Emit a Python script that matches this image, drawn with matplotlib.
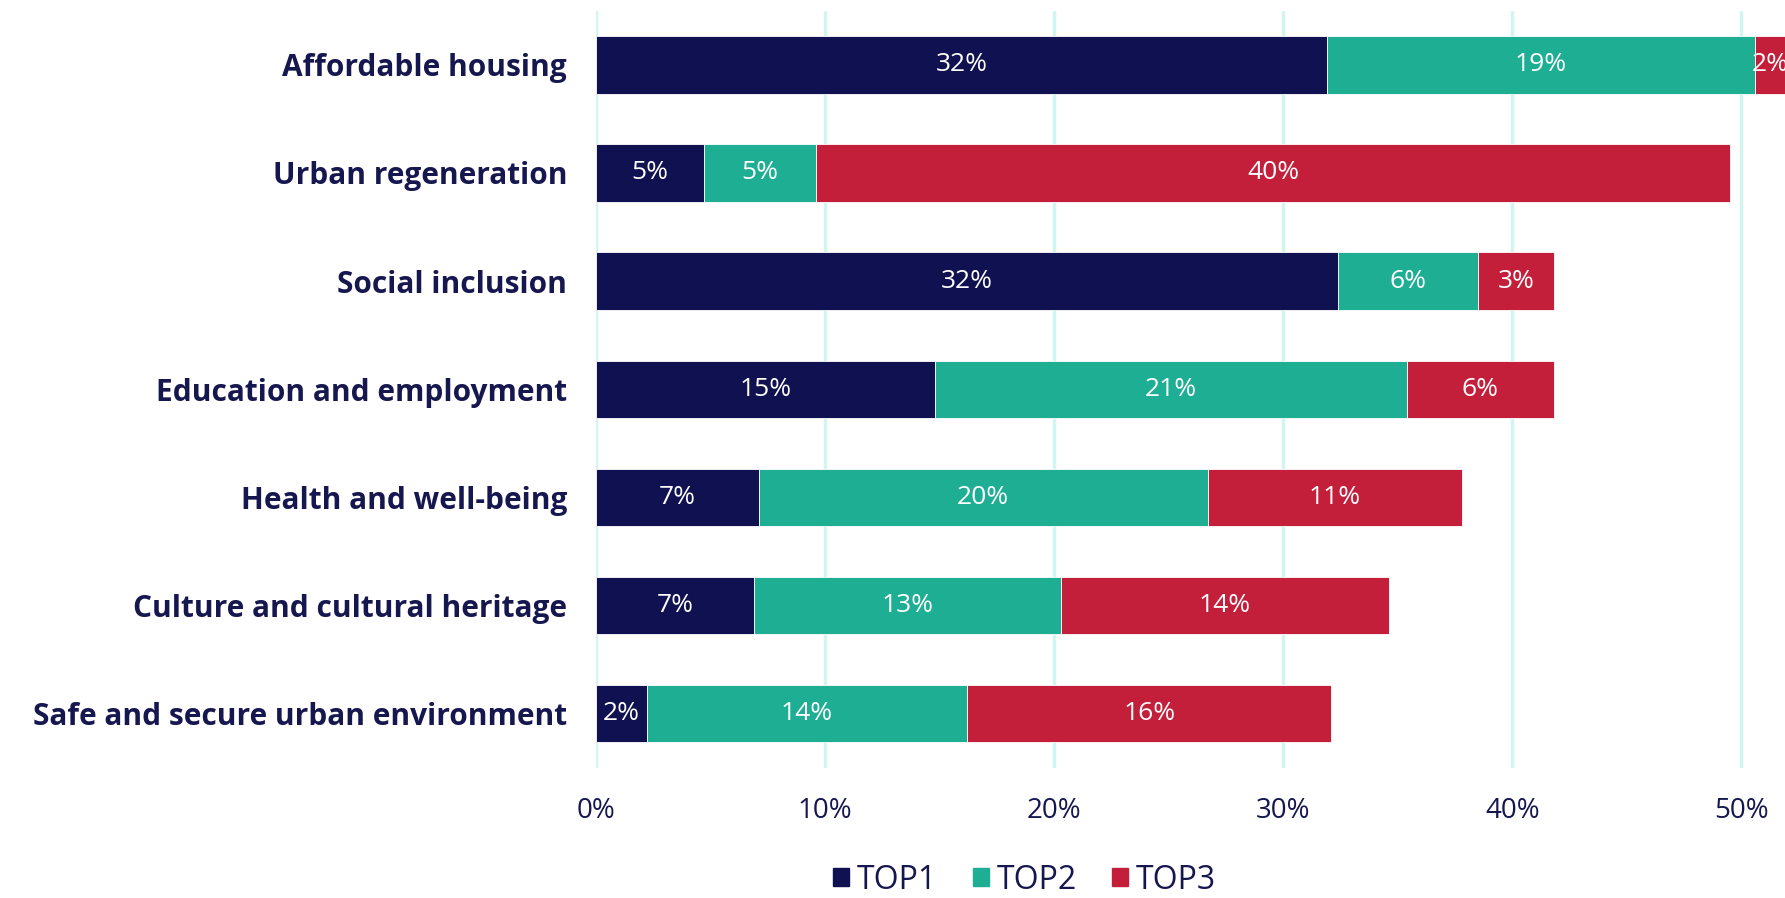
import numpy as np
from matplotlib import pyplot as plt
from matplotlib.patches import Patch

categories = ["Affordable housing", "Urban regeneration", "Social inclusion",
              "Education and employment", "Health and well-being",
              "Culture and cultural heritage", "Safe and secure urban environment"]
top1 = [31.9, 4.7, 32.4, 14.8, 7.1, 6.9, 2.2]
top2 = [18.7, 4.9, 6.1, 20.6, 19.6, 13.4, 14.0]
top3 = [2.0, 39.9, 3.3, 6.4, 11.1, 14.3, 15.9]
series_names = ["TOP1", "TOP2", "TOP3"]
colors = ["#0f1150", "#1eae94", "#c41f3a"]
ticks = [0, 10, 20, 30, 40, 50]

text_color = "#16174f"
plt.rcParams['font.family'] = ['Open Sans', 'DejaVu Sans']

fig = plt.figure(figsize=(17.85, 8.98), dpi=100)
ax = fig.add_axes([0.334, 0.145, 0.666, 0.843])

y = np.arange(len(categories))
left = np.zeros(len(categories))
for vals, name, col in zip([top1, top2, top3], series_names, colors):
    bars = ax.barh(y, vals, left=left, height=0.53, color=col, label=name,
                   edgecolor="white", linewidth=0.6, zorder=3)
    ax.bar_label(bars, labels=[f"{round(v)}%" for v in vals], label_type="center",
                 color="white", fontsize=19, zorder=4)
    left += np.array(vals)

ax.set_xlim(0, 51.9)
ax.set_ylim(len(categories) - 0.5, -0.5)
ax.set_yticks(y)
ax.set_yticklabels(categories, fontsize=21.5, fontweight="bold", color=text_color)
ax.set_xticks(ticks)
ax.set_xticklabels([f"{t}%" for t in ticks], fontsize=20, color=text_color)
ax.tick_params(axis="both", length=0)
ax.tick_params(axis="y", pad=21)
ax.tick_params(axis="x", pad=21)
for s in ax.spines.values():
    s.set_visible(False)
for t in ticks:
    ax.axvline(t, color="#d2f5ef", linewidth=2.5, zorder=1)

handles = [Patch(color=c) for c in colors]
fig.legend(handles, series_names, loc="center", bbox_to_anchor=(0.574, 0.02),
           ncol=3, frameon=False, fontsize=23, handlelength=0.5, handleheight=0.5,
           handletextpad=0.25, columnspacing=1.1, labelcolor=text_color)

fig.savefig("out.png", dpi=100)
